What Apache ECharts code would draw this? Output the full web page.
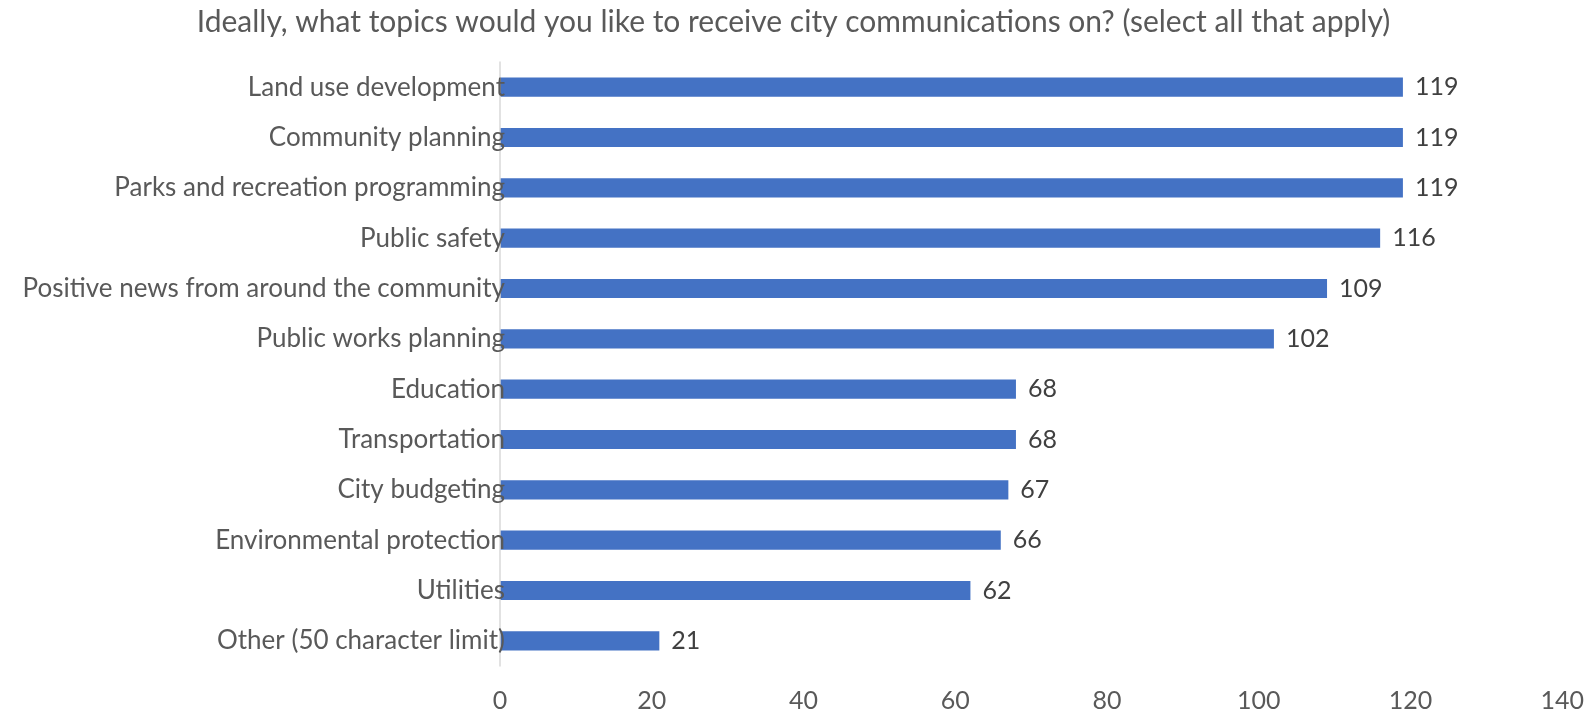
<!DOCTYPE html>
<html>
<head>
<meta charset="utf-8">
<script src="https://cdn.jsdelivr.net/npm/echarts@6/dist/echarts.min.js"></script>
<style>
html, body { margin: 0; padding: 0; background: #fff; }
#chart { width: 1587px; height: 718px; }
</style>
</head>
<body>
<div id="chart"></div>
<script>
// topics and response counts
var topics = [
	'Land use development',
	'Community planning',
	'Parks and recreation programming',
	'Public safety',
	'Positive news from around the community',
	'Public works planning',
	'Education',
	'Transportation',
	'City budgeting',
	'Environmental protection',
	'Utilities',
	'Other (50 character limit)'
];
var counts = [119, 119, 119, 116, 109, 102, 68, 68, 67, 66, 62, 21];
var xTicks = [0, 20, 40, 60, 80, 100, 120, 140];

var chart = echarts.init(document.getElementById('chart'));
var font = 'Lato, "Open Sans", sans-serif';

var option = {
	animation: false,
	title: {
		text: 'Ideally, what topics would you like to receive city communications on? (select all that apply)',
		left: 'center',
		top: 2,
		padding: [5, 18, 5, 0],
		textStyle: { fontFamily: font, fontSize: 30, fontWeight: 'normal', color: '#595959' }
	},
	grid: { left: 500, right: 23, top: 62, bottom: 52, containLabel: false },
	xAxis: {
		type: 'value',
		min: xTicks[0],
		max: xTicks[xTicks.length - 1],
		interval: 20,
		axisLine: { show: false },
		axisTick: { show: false },
		splitLine: { show: false },
		axisLabel: { fontFamily: font, fontSize: 25, color: '#595959', margin: 22 }
	},
	yAxis: {
		type: 'category',
		data: topics,
		inverse: true,
		z: 5,
		axisLine: { show: true, lineStyle: { color: '#d9d9d9', width: 1.5 } },
		axisTick: { show: false },
		axisLabel: { fontFamily: font, fontSize: 26, color: '#595959', margin: -5 }
	},
	series: [{
		type: 'bar',
		data: counts,
		barWidth: '38%',
		itemStyle: { color: '#4472C4' },
		label: {
			show: true,
			position: 'right',
			distance: 12,
			fontFamily: font,
			fontSize: 25,
			color: '#404040'
		}
	}]
};
chart.setOption(option);
</script>
</body>
</html>
